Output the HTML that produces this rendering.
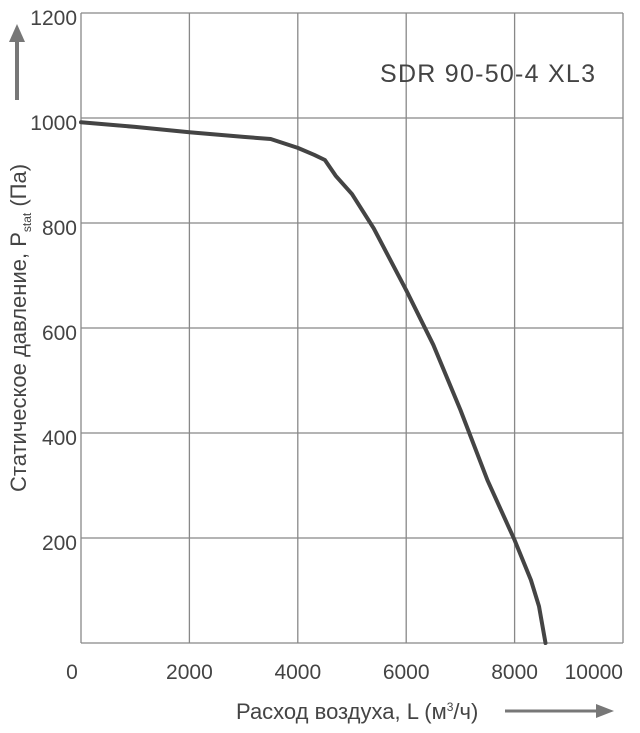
<!DOCTYPE html>
<html><head><meta charset="utf-8"><style>
body{margin:0;background:#fff;}
text{font-family:"Liberation Sans",sans-serif;fill:#444;}
</style></head><body>
<svg width="640" height="728" id="chart">
<g id="grid"></g>
<g id="ylabels"></g>
<g id="xlabels"></g>
<path id="curve" fill="none" stroke="#444" stroke-width="4" stroke-linejoin="round" stroke-linecap="round"/>
<text x="380" y="82" font-size="25" textLength="215">SDR 90-50-4 XL3</text>
<text transform="translate(26,328) rotate(-90)" text-anchor="middle" font-size="22">Статическое давление, P<tspan font-size="12" dy="5">stat</tspan><tspan dy="-5"> (Па)</tspan></text>
<line x1="17" y1="100" x2="17" y2="40" stroke="#777" stroke-width="4"/>
<polygon points="9,42 25,42 17,24" fill="#777"/>
<text x="236" y="719" font-size="22">Расход воздуха, L (м<tspan font-size="12" dy="-8">3</tspan><tspan dy="8">/ч)</tspan></text>
<line x1="505" y1="711" x2="598" y2="711" stroke="#777" stroke-width="3"/>
<polygon points="596,704 596,718 614,711" fill="#777"/>
</svg>
<script>
const xTicks=[0,2000,4000,6000,8000,10000];
const yTicks=[200,400,600,800,1000,1200];
const flow=[0,1000,2000,3000,3500,4000,4300,4500,4700,5000,5400,6000,6500,7000,7500,8000,8300,8450,8570];
const pressure=[992,983,973,964,960,943,930,920,890,855,790,672,568,444,310,196,120,70,0];
const X0=81,X1=623,Y0=643,Y1=13;
const sx=v=>X0+(X1-X0)*v/10000;
const sy=v=>Y0-(Y0-Y1)*v/1200;
const ns="http://www.w3.org/2000/svg";
const grid=document.getElementById('grid'),yl=document.getElementById('ylabels'),xl=document.getElementById('xlabels');
function ln(x1,y1,x2,y2){const l=document.createElementNS(ns,'line');l.setAttribute('x1',x1);l.setAttribute('y1',y1);l.setAttribute('x2',x2);l.setAttribute('y2',y2);l.setAttribute('stroke','#888');l.setAttribute('stroke-width','1.3');


grid.appendChild(l);}
ln(X0,Y0,X1,Y0);
xTicks.forEach((v,i)=>{ln(sx(v),Y1,sx(v),Y0);
const t=document.createElementNS(ns,'text');
let x=sx(v),anchor='middle';
if(i===0){x=72;}
if(i===xTicks.length-1){x=X1;anchor='end';}
t.setAttribute('x',x);t.setAttribute('y',679);t.setAttribute('text-anchor',anchor);t.setAttribute('font-size','21');t.textContent=v;


xl.appendChild(t);});
yTicks.forEach(v=>{ln(X0,sy(v),X1,sy(v));
const t=document.createElementNS(ns,'text');t.setAttribute('x',77);t.setAttribute('y',sy(v)+12);t.setAttribute('text-anchor','end');t.setAttribute('font-size','21');t.textContent=v;


yl.appendChild(t);});
let d='';flow.forEach((f,i)=>{d+=(i?'L':'M')+sx(f).toFixed(1)+','+sy(pressure[i]).toFixed(1);});
document.getElementById('curve').setAttribute('d',d);
</script>
</body></html>
